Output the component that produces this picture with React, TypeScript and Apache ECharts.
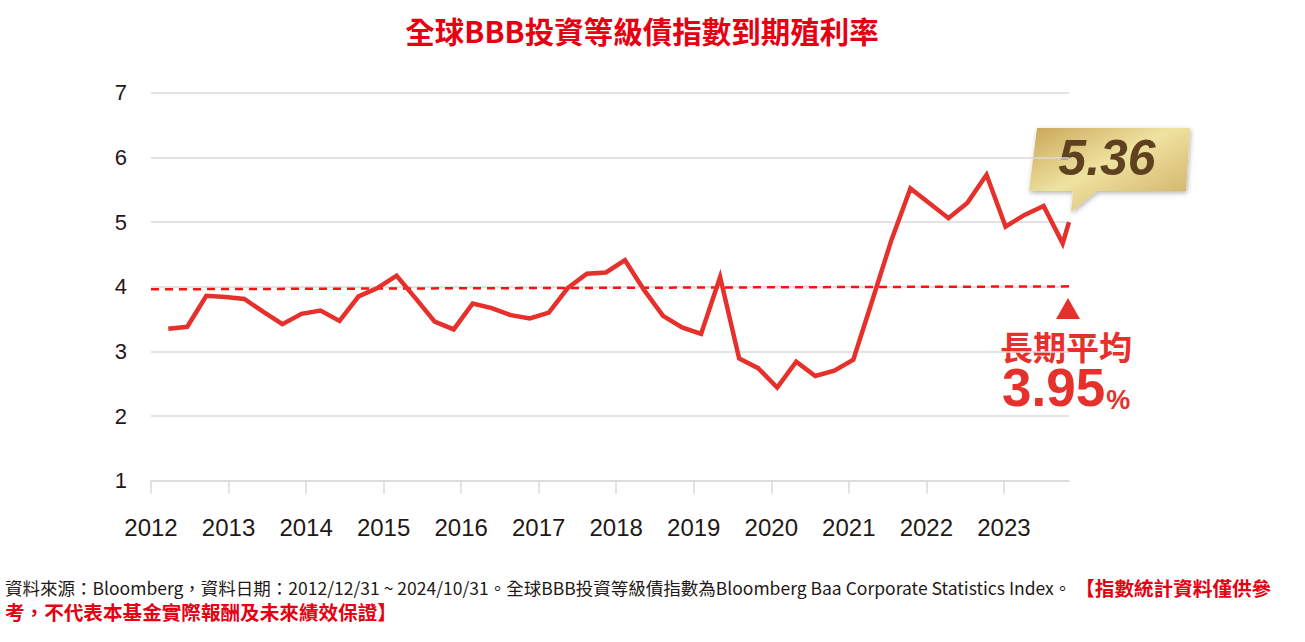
import React, { useEffect, useRef } from 'react';
import * as echarts from 'echarts';

const chartTitle = '全球BBB投資等級債指數到期殖利率';
const yearLabels = [2012, 2013, 2014, 2015, 2016, 2017, 2018, 2019, 2020, 2021, 2022, 2023];
const obsDates = [
  '2012-12', '2013-03', '2013-06', '2013-09', '2013-12', '2014-03', '2014-06', '2014-09', '2014-12',
  '2015-03', '2015-06', '2015-09', '2015-12', '2016-03', '2016-06', '2016-09', '2016-12',
  '2017-03', '2017-06', '2017-09', '2017-12', '2018-03', '2018-06', '2018-09', '2018-12',
  '2019-03', '2019-06', '2019-09', '2019-12', '2020-03', '2020-06', '2020-09', '2020-12',
  '2021-03', '2021-06', '2021-09', '2021-12', '2022-03', '2022-06', '2022-09', '2022-12',
  '2023-03', '2023-06', '2023-09', '2023-12', '2024-03', '2024-06', '2024-09', '2024-10',
];
const yieldValues = [
  3.35, 3.38, 3.86, 3.84, 3.81, 3.61, 3.42, 3.58, 3.63, 3.47,
  3.85, 3.98, 4.17, 3.82, 3.46, 3.34, 3.74, 3.67, 3.56, 3.51,
  3.60, 3.98, 4.20, 4.22, 4.41, 3.95, 3.55, 3.37, 3.27, 4.15,
  2.89, 2.74, 2.44, 2.84, 2.62, 2.70, 2.87, 3.79, 4.72, 5.52,
  5.29, 5.06, 5.30, 5.73, 4.93, 5.11, 5.25, 4.67, 5.00,
];
const avgLineValues = [3.96, 4.01];
const avgLineEndDate = '2026-01';
const latestLabel = '5.36';
const avgLabel = '長期平均';
const avgValueText = '3.95';
const footerNormal = '資料來源：Bloomberg，資料日期：2012/12/31 ~ 2024/10/31。全球BBB投資等級債指數為Bloomberg Baa Corporate Statistics Index。 ';
const footerRed1 = '【指數統計資料僅供參';
const footerRed2 = '考，不代表本基金實際報酬及未來績效保證】';

const monthsSince = (d: string) => {
  const [y, m] = d.split('-').map(Number);
  return (y - 2012) * 12 + (m - 12);
};

const RED = '#e6302b';
const TEXT = '#231815';
const GRID = '#dadada';
const CJK = '"Noto Sans CJK TC", "Noto Sans CJK SC", sans-serif';
const LATIN = '"Liberation Sans", Arial, sans-serif';

export default function App() {
  const ref = useRef<HTMLDivElement>(null);
  useEffect(() => {
    if (!ref.current) return;
    const chart = echarts.init(ref.current, null, { renderer: 'svg' });
    const dataMin = -2.72;
    chart.setOption({
      animation: false,
      grid: { left: 151, right: 236, top: 92.7, bottom: 161.3, containLabel: false },
      xAxis: [
        {
          type: 'value',
          min: 2012,
          max: 2023.84,
          axisLine: { show: true, lineStyle: { color: GRID, width: 1.5 } },
          axisTick: { show: true, length: 13, customValues: yearLabels, lineStyle: { color: GRID, width: 1.5 } },
          axisLabel: {
            customValues: yearLabels,
            formatter: (v: number) => String(v),
            fontSize: 24,
            fontFamily: LATIN,
            color: TEXT,
            margin: 35,
          },
          splitLine: { show: false },
        },
        { type: 'value', min: dataMin, max: 142, show: false },
      ],
      yAxis: {
        type: 'value',
        min: 1,
        max: 7,
        interval: 1,
        axisLine: { show: false },
        axisTick: { show: false },
        axisLabel: { fontSize: 22, fontFamily: LATIN, color: TEXT, margin: 24 },
        splitLine: { lineStyle: { color: GRID, width: 1.5 } },
      },
      series: [
        {
          type: 'line',
          xAxisIndex: 1,
          data: [
            [dataMin, avgLineValues[0]],
            [monthsSince(avgLineEndDate), avgLineValues[1]],
          ],
          clip: false,
          symbol: 'none',
          z: 2,
          lineStyle: { color: '#ff1010', width: 2.5, type: [8, 6] },
          silent: true,
        },
        {
          type: 'line',
          xAxisIndex: 1,
          data: obsDates.map((d, i) => [monthsSince(d), yieldValues[i]]),
          symbol: 'none',
          z: 3,
          lineStyle: { color: RED, width: 4.5, join: 'miter' },
        },
      ],
      graphic: [
        {
          type: 'text',
          x: 642,
          y: 30,
          style: {
            text: chartTitle,
            fill: '#e60012',
            font: `bold 29.5px ${CJK}`,
            textAlign: 'center',
            textVerticalAlign: 'middle',
          },
        },
        {
          type: 'polygon',
          shape: {
            points: [
              [1037, 128], [1190, 128], [1186, 191], [1097, 191], [1071, 212], [1073, 191], [1029, 191],
            ],
          },
          style: {
            fill: new echarts.graphic.LinearGradient(0, 0, 1, 1, [
              { offset: 0, color: '#c9a658' },
              { offset: 0.45, color: '#efe2a0' },
              { offset: 1, color: '#cdaa5e' },
            ]),
            shadowBlur: 5,
            shadowColor: 'rgba(0,0,0,0.3)',
            shadowOffsetX: 1,
            shadowOffsetY: 2,
          },
        },
        {
          type: 'text',
          x: 1107,
          y: 158,
          style: {
            text: latestLabel,
            fill: '#5e4220',
            font: `italic bold 50px ${LATIN}`,
            textAlign: 'center',
            textVerticalAlign: 'middle',
          },
        },
        {
          type: 'polygon',
          shape: { points: [[1056, 319], [1080, 319], [1068, 298]] },
          style: { fill: RED },
        },
        {
          type: 'text',
          x: 1000,
          y: 323.5,
          style: {
            text: `{t|${avgLabel}}\n{a|${avgValueText}}{b|%}`,
            textAlign: 'left',
            textVerticalAlign: 'top',
            rich: {
              t: { font: `bold 33px ${CJK}`, fill: RED, lineHeight: 45 },
              a: { font: `bold 53px ${LATIN}`, fill: RED, verticalAlign: 'bottom', lineHeight: 45, padding: [0, 0, 0, 2] },
              b: { font: `bold 27px ${LATIN}`, fill: RED, verticalAlign: 'bottom', lineHeight: 24, padding: [0, 0, 0, 1] },
            },
          },
        },
        {
          type: 'text',
          x: 5,
          y: 575,
          style: {
            text: `{n|${footerNormal}}{r|${footerRed1}}\n{r|${footerRed2}}`,
            textVerticalAlign: 'top',
            rich: {
              n: { font: `17.5px ${CJK}`, fill: TEXT, lineHeight: 24 },
              r: { font: `bold 19.6px ${CJK}`, fill: '#e60012', lineHeight: 24 },
            },
          },
        },
      ],
    });
    return () => chart.dispose();
  }, []);
  return (
    <div
      ref={ref}
      style={{ position: 'absolute', left: 0, top: 0, width: 1305, height: 642, background: '#fff' }}
    />
  );
}
